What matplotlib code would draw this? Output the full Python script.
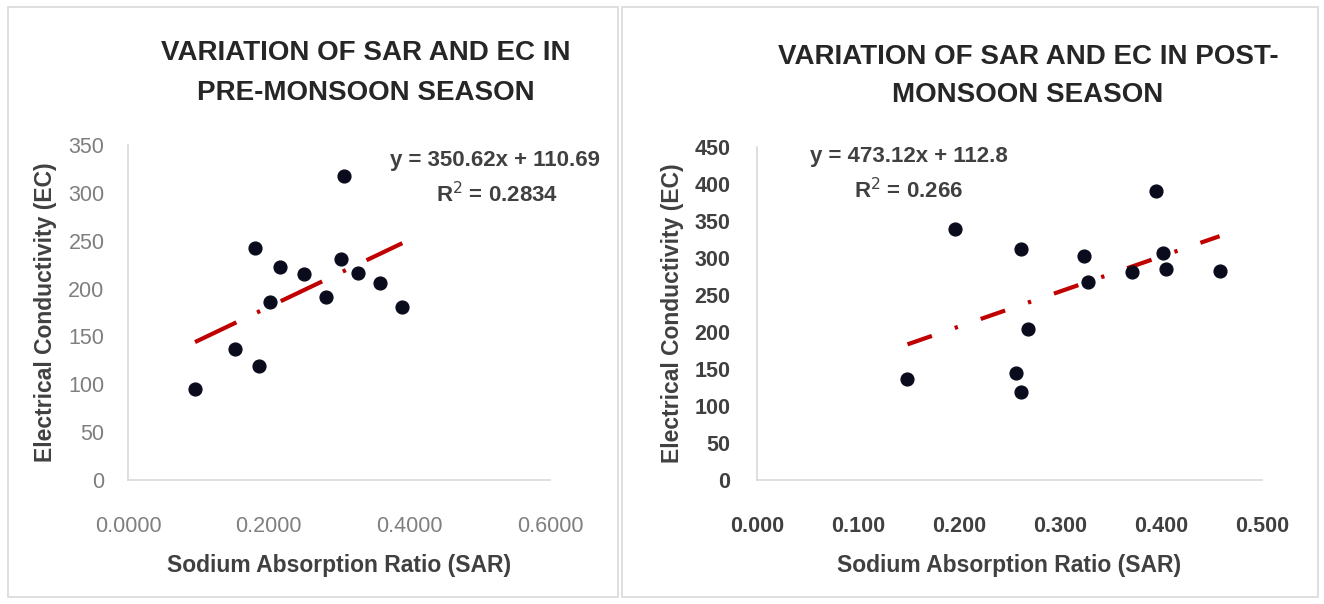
import numpy
from matplotlib import pyplot as plt
from matplotlib.patches import Rectangle

# --- data --- #
pre_sar = [0.0953, 0.152, 0.186, 0.181, 0.2026, 0.2157, 0.250, 0.282, 0.303, 0.307, 0.3265, 0.3587, 0.390]
pre_ec = [95.3, 136.9, 119.5, 242.6, 186.1, 222.8, 215.5, 191.6, 231.1, 317.7, 215.9, 205.5, 181.2]
pre_slope, pre_intercept, pre_r2 = 350.62, 110.69, 0.2834

post_sar = [0.149, 0.196, 0.256, 0.261, 0.261, 0.268, 0.324, 0.328, 0.371, 0.395, 0.402, 0.405, 0.458]
post_ec = [135.9, 339.6, 144.8, 119.0, 312.4, 204.1, 302.1, 267.4, 280.7, 389.9, 306.1, 285.2, 282.1]
post_slope, post_intercept, post_r2 = 473.12, 112.8, 0.266

plt.rcParams['font.family'] = ['Liberation Sans', 'DejaVu Sans']

fig = plt.figure(figsize=(13.24, 6.04), dpi=100)

# panel frames
fig.patches.append(Rectangle((8 / 1324, 1 - 597 / 604), 610 / 1324, 590 / 604, transform=fig.transFigure,
                             fill=False, edgecolor='#d9d9d9', linewidth=1.2))
fig.patches.append(Rectangle((622 / 1324, 1 - 597 / 604), 696 / 1324, 590 / 604, transform=fig.transFigure,
                             fill=False, edgecolor='#d9d9d9', linewidth=1.2))

ax1 = fig.add_axes([128 / 1324, 1 - 480 / 604, 422 / 1324, 335 / 604])
ax2 = fig.add_axes([757 / 1324, 1 - 480 / 604, 505 / 1324, 333 / 604])

dot_color = '#0b0b1e'
red = '#c00000'


def style_axis(ax, tick_color, tick_weight, xpad, ypad):
    for side in ['top', 'right']:
        ax.spines[side].set_visible(False)
    for side in ['left', 'bottom']:
        ax.spines[side].set_color('#d9d9d9')
        ax.spines[side].set_linewidth(1.2)
    ax.tick_params(length=0, labelsize=15.5, labelcolor=tick_color)
    ax.tick_params(axis='x', pad=xpad)
    ax.tick_params(axis='y', pad=ypad)
    for lab in ax.get_xticklabels() + ax.get_yticklabels():
        lab.set_fontweight(tick_weight)
    ax.set_xlabel('Sodium Absorption Ratio (SAR)', fontsize=16.5, fontweight='bold', color='#404040', labelpad=12)
    ax.set_ylabel('Electrical Conductivity (EC)', fontsize=16.5, fontweight='bold', color='#404040', labelpad=8)


# --- pre-monsoon --- #
ax1.scatter(pre_sar, pre_ec, s=85, color=dot_color, zorder=3)
tx = numpy.array([min(pre_sar), max(pre_sar)])
ax1.plot(tx, pre_slope * tx + pre_intercept, color=red, linewidth=3, linestyle=(0, (11, 5.5, 0.8, 5.5)), zorder=2)
ax1.set_xlim(0, 0.6)
ax1.set_ylim(0, 350)
ax1.set_xticks([0, 0.2, 0.4, 0.6])
ax1.set_xticklabels(['%.4f' % v for v in [0, 0.2, 0.4, 0.6]])
ax1.set_yticks(range(0, 351, 50))
style_axis(ax1, '#7f7f7f', 'normal', 26, 17)
ax1.text(0.522, 334, 'y = %.2fx + %.2f' % (pre_slope, pre_intercept), ha='center', va='center',
         fontsize=16, fontweight='bold', color='#404040')
ax1.text(0.525, 298, 'R$^2$ = %.4f' % pre_r2, ha='center', va='center',
         fontsize=16, fontweight='bold', color='#404040')

# --- post-monsoon --- #
ax2.scatter(post_sar, post_ec, s=85, color=dot_color, zorder=3)
tx = numpy.array([min(post_sar), max(post_sar)])
ax2.plot(tx, post_slope * tx + post_intercept, color=red, linewidth=3, linestyle=(0, (6.2, 5.8, 0.8, 5.8)), zorder=2)
ax2.set_xlim(0, 0.5)
ax2.set_ylim(0, 450)
ax2.set_xticks(numpy.arange(0, 0.51, 0.1))
ax2.set_xticklabels(['%.3f' % v for v in numpy.arange(0, 0.51, 0.1)])
ax2.set_yticks(range(0, 451, 50))
style_axis(ax2, '#404040', 'bold', 26, 19)
ax2.text(0.150, 437, 'y = %.2fx + %.1f' % (post_slope, post_intercept), ha='center', va='center',
         fontsize=16, fontweight='bold', color='#404040')
ax2.text(0.150, 391, 'R$^2$ = %.3f' % post_r2, ha='center', va='center',
         fontsize=16, fontweight='bold', color='#404040')

# titles
fig.text(366 / 1324, 1 - 73 / 604, 'VARIATION OF SAR AND EC IN\nPRE-MONSOON SEASON', ha='center', va='center',
         fontsize=20, fontweight='bold', color='#262626', linespacing=1.65)
fig.text(1028 / 1324, 1 - 76 / 604, 'VARIATION OF SAR AND EC IN POST-\nMONSOON SEASON', ha='center', va='center',
         fontsize=20, fontweight='bold', color='#262626', linespacing=1.65)

fig.savefig('out.png', dpi=100)
